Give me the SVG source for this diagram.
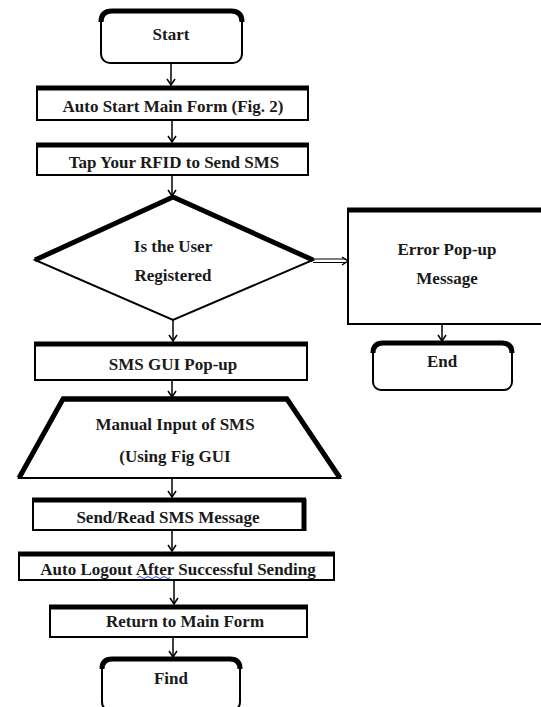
<svg xmlns="http://www.w3.org/2000/svg" width="541" height="707" viewBox="0 0 541 707">
<defs>
<style>
.b{fill:#fff;stroke:#000;stroke-width:2}
.t{fill:none;stroke:#000;stroke-width:5}
.c{fill:none;stroke:#000;stroke-width:1.5}
.l{font-family:'Liberation Serif','DejaVu Serif',serif;font-weight:700;font-size:17px;fill:#1a1a1a;text-anchor:middle}
</style>
<marker id="ah" markerWidth="8" markerHeight="10" refX="7" refY="5" orient="auto" markerUnits="userSpaceOnUse" viewBox="0 0 8 10">
<path d="M1,1 L7,5 L1,9" fill="none" stroke="#000" stroke-width="1.5"/>
</marker>
</defs>
<rect width="541" height="707" fill="#fff"/>
<g id="connectors">
<line class="c" x1="171" y1="63" x2="171" y2="85" marker-end="url(#ah)"/>
<line class="c" x1="172" y1="121" x2="172" y2="142" marker-end="url(#ah)"/>
<line class="c" x1="172" y1="176" x2="172" y2="196" marker-end="url(#ah)"/>
<line class="c" x1="173" y1="320" x2="173" y2="341" marker-end="url(#ah)"/>
<path d="M313,259 H346 M313,262.5 H346" fill="none" stroke="#000" stroke-width="1.2"/>
<path d="M342,257 L348,261 L342,265" fill="none" stroke="#000" stroke-width="1.5"/>
<line class="c" x1="442" y1="325" x2="442" y2="341" marker-end="url(#ah)"/>
<line class="c" x1="172" y1="381" x2="172" y2="397" marker-end="url(#ah)"/>
<line class="c" x1="172" y1="479" x2="172" y2="497" marker-end="url(#ah)"/>
<line class="c" x1="172" y1="531" x2="172" y2="551" marker-end="url(#ah)"/>
<line class="c" x1="174" y1="581" x2="174" y2="604" stroke-width="2.5" marker-end="url(#ah)"/>
<line class="c" x1="173" y1="638" x2="173" y2="657" marker-end="url(#ah)"/>
</g>
<g id="start">
<rect class="b" x="101" y="11" width="141" height="52" rx="9"/>
<path class="t" d="M101,22 Q101,11 112,11 H231 Q242,11 242,22" stroke-width="4"/>
<text class="l" x="171" y="40">Start</text>
</g>
<g id="auto-start">
<rect class="b" x="37" y="87" width="271" height="33"/>
<line class="t" x1="36" y1="88" x2="309" y2="88"/>
<text class="l" x="173" y="112">Auto Start Main Form (Fig. 2)</text>
</g>
<g id="tap-rfid">
<rect class="b" x="37" y="144" width="271" height="31"/>
<line class="t" x1="36" y1="145" x2="309" y2="145"/>
<text class="l" x="174" y="168">Tap Your RFID to Send SMS</text>
</g>
<g id="decision">
<polygon class="b" points="173,197 313,260 173,320 35,260"/>
<path class="t" d="M35,260 L173,197 L313,260" stroke-linejoin="miter"/>
<text class="l" x="173" y="252">Is the User</text>
<text class="l" x="173" y="281">Registered</text>
</g>
<g id="error">
<rect class="b" x="348" y="209" width="200" height="115"/>
<line class="t" x1="347" y1="210" x2="545" y2="210"/>
<text class="l" x="447" y="255">Error Pop-up</text>
<text class="l" x="447" y="284">Message</text>
</g>
<g id="end">
<rect class="b" x="373" y="343" width="139" height="47" rx="8"/>
<path class="t" d="M373,353 Q373,343 383,343 H502 Q512,343 512,353" stroke-width="4"/>
<text class="l" x="442" y="367">End</text>
</g>
<g id="sms-gui">
<rect class="b" x="35" y="343" width="272" height="37"/>
<line class="t" x1="34" y1="344" x2="308" y2="344"/>
<text class="l" x="173" y="370">SMS GUI Pop-up</text>
</g>
<g id="manual-input">
<polygon class="b" points="63,399 287,399 340,478 19,478"/>
<path class="t" d="M19,478 L63,399 H287 L340,478" stroke-width="3"/>
<line class="t" x1="62" y1="399" x2="288" y2="399"/>
<text class="l" x="175" y="430">Manual Input of SMS</text>
<text class="l" x="175" y="462">(Using Fig GUI</text>
</g>
<g id="send-read">
<rect class="b" x="33" y="499" width="272" height="31"/>
<line class="t" x1="32" y1="500" x2="306" y2="500"/>
<line class="t" x1="304" y1="499" x2="304" y2="531" stroke-width="3"/>
<text class="l" x="168" y="523">Send/Read SMS Message</text>
</g>
<g id="auto-logout">
<rect class="b" x="19" y="553" width="315" height="27"/>
<line class="t" x1="18" y1="554" x2="335" y2="554"/>
<text class="l" x="178" y="575">Auto Logout After Successful Sending</text>
<path d="M138,577.5 q2,-2 4,0 t4,0 t4,0 t4,0 t4,0 t4,0 t4,0 t4,0" fill="none" stroke="#3355cc" stroke-width="1"/>
</g>
<g id="return">
<rect class="b" x="50" y="606" width="257" height="31"/>
<line class="t" x1="49" y1="607" x2="308" y2="607" stroke-width="4"/>
<text class="l" x="185" y="627">Return to Main Form</text>
</g>
<g id="find">
<rect class="b" x="102" y="659" width="138" height="52" rx="9"/>
<path class="t" d="M102,669 Q102,659 112,659 H230 Q240,659 240,669" stroke-width="3"/>
<text class="l" x="171" y="684">Find</text>
</g>
</svg>
